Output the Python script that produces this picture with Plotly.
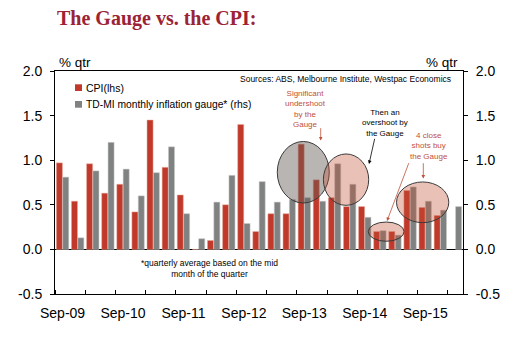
import plotly.graph_objects as go

quarters = ["Sep-09", "Dec-09", "Mar-10", "Jun-10", "Sep-10", "Dec-10", "Mar-11", "Jun-11",
            "Sep-11", "Dec-11", "Mar-12", "Jun-12", "Sep-12", "Dec-12", "Mar-13", "Jun-13",
            "Sep-13", "Dec-13", "Mar-14", "Jun-14", "Sep-14", "Dec-14", "Mar-15", "Jun-15",
            "Sep-15", "Dec-15", "Mar-16"]
cpi = [0.97, 0.54, 0.96, 0.63, 0.73, 0.42, 1.45, 0.92, 0.61, 0.0, 0.10, 0.50, 1.40, 0.20,
       0.40, 0.40, 1.18, 0.78, 0.58, 0.48, 0.48, 0.20, 0.20, 0.66, 0.47, 0.38, None]
gauge = [0.81, 0.13, 0.88, 1.20, 0.90, 0.60, 0.86, 1.15, 0.40, 0.12, 0.53, 0.83, 0.29, 0.76,
         0.53, 0.56, 0.58, 0.54, 0.96, 0.73, 0.36, 0.21, 0.16, 0.70, 0.54, 0.44, 0.48]
y_ticks = [-0.5, 0.0, 0.5, 1.0, 1.5, 2.0]
y_tick_labels = ["-0.5", "0.0", "0.5", "1.0", "1.5", "2.0"]
label_every = 4

W, H = 514, 358
ML, MR, MT, MB = 55, 51, 71, 64
PW, PH = W - ML - MR, H - MT - MB


def px(x):
    return (x - ML) / PW


def py(y):
    return (H - MB - y) / PH


xs = list(range(len(quarters)))
FONT = "Liberation Sans, Arial, sans-serif"
RED = "#c0392b"
GREY = "#808282"
ANN_RED = "#c0503a"

fig = go.Figure()
fig.add_trace(go.Bar(x=xs, y=cpi, name="CPI(lhs)", marker=dict(color=RED, line=dict(color="#e8a898", width=0.5)),
                     offsetgroup="a", yaxis="y"))
fig.add_trace(go.Bar(x=xs, y=gauge, name="TD-MI monthly inflation gauge* (rhs)",
                     marker=dict(color=GREY, line=dict(color="#c8c8c8", width=0.5)),
                     offsetgroup="b", yaxis="y2"))

yax = dict(range=[-0.5, 2.0], tickvals=y_ticks, ticktext=y_tick_labels, ticks="outside", ticklen=4,
           tickcolor="black", showline=True, linecolor="black", linewidth=1, showgrid=False,
           tickfont=dict(size=14, color="black", family=FONT), ticklabelstandoff=5, automargin=False)

fig.update_layout(
    width=W, height=H, margin=dict(l=ML, r=MR, t=MT, b=MB),
    paper_bgcolor="white", plot_bgcolor="white", showlegend=False,
    barmode="group", bargap=0.16, bargroupgap=0.05,
    font=dict(family=FONT, color="black"),
    xaxis=dict(range=[-0.5, len(quarters) - 0.5], tickvals=xs[::label_every],
               ticktext=quarters[::label_every], ticks="", showline=True, mirror=True,
               linecolor="black", linewidth=1, showgrid=False, zeroline=False, automargin=False,
               tickfont=dict(size=14, color="black", family=FONT), ticklabelstandoff=6,
               minor=dict(tick0=-0.5, dtick=2, ticks="inside", ticklen=4, tickcolor="black")),
    yaxis=dict(**yax, zeroline=True, zerolinecolor="black", zerolinewidth=1),
    yaxis2=dict(**yax, overlaying="y", side="right", zeroline=False),
)

# highlight ellipses
ellipses = [
    (14.21, 17.65, 0.52, 1.21, "rgba(100,92,85,0.45)"),
    (17.26, 20.26, 0.494, 1.07, "rgba(192,77,50,0.35)"),
    (20.23, 22.60, 0.091, 0.307, "rgba(192,77,50,0.35)"),
    (22.10, 25.56, 0.30, 0.756, "rgba(192,77,50,0.35)"),
]
for x0, x1, y0, y1, fc in ellipses:
    fig.add_shape(type="circle", xref="x", yref="y", x0=x0, x1=x1, y0=y0, y1=y1,
                  fillcolor=fc, line=dict(color="#3a3a3a", width=1), layer="above")

ann = []
ann.append(dict(x=px(55), y=py(18.5), text="<b>The Gauge vs. the CPI:</b>", xanchor="left", yanchor="middle",
                font=dict(family="Liberation Serif, Times New Roman, serif", size=20, color="#9b2335")))
ann.append(dict(x=px(57), y=py(62), text="% qtr", xanchor="left", yanchor="middle", font=dict(size=13.5)))
ann.append(dict(x=px(460), y=py(62), text="% qtr", xanchor="right", yanchor="middle", font=dict(size=13.5)))
ann.append(dict(x=px(453), y=py(79), text="Sources: ABS, Melbourne Institute, Westpac Economics",
                xanchor="right", yanchor="middle", font=dict(size=8.5)))
ann.append(dict(x=px(83.5), y=py(87.7), text="CPI(lhs)", xanchor="left", yanchor="middle", font=dict(size=10.5)))
ann.append(dict(x=px(83.5), y=py(104.4), text="TD-MI monthly inflation gauge* (rhs)", xanchor="left",
                yanchor="middle", font=dict(size=10.3)))
ann.append(dict(x=px(209), y=py(268.8), text="*quarterly average based on the mid<br>month of the quarter",
                xanchor="center", yanchor="middle", font=dict(size=8.5)))
ann.append(dict(x=px(305), y=py(108.7), text="Significant<br>undershoot<br>by the<br>Gauge",
                xanchor="center", yanchor="middle", font=dict(size=8, color=ANN_RED)))
ann.append(dict(x=px(385), y=py(123), text="Then an<br>overshoot by<br>the Gauge",
                xanchor="center", yanchor="middle", font=dict(size=8, color="black")))
ann.append(dict(x=px(429), y=py(146), text="4 close<br>shots buy<br>the Gauge",
                xanchor="center", yanchor="middle", font=dict(size=8, color=ANN_RED)))

arrows = [
    ((320.7, 126.7), (320.7, 140.5), ANN_RED),
    ((375.0, 137.3), (369.0, 164.0), "black"),
    ((423.3, 161.7), (423.3, 178.5), ANN_RED),
    ((409.3, 161.7), (387.0, 221.0), ANN_RED),
]
for (tx, ty), (hx, hy), col in arrows:
    ann.append(dict(x=px(hx), y=py(hy), ax=tx - hx, ay=ty - hy, text="", showarrow=True,
                    arrowhead=2, arrowsize=0.9, arrowwidth=0.8, arrowcolor=col, standoff=0, startstandoff=0))

for a in ann:
    a.setdefault("xref", "paper")
    a.setdefault("yref", "paper")
    a.setdefault("showarrow", False)
    fig.add_annotation(**a)

# legend swatches
for (y0, y1, col) in [(84.3, 91.0, RED), (101.0, 107.7, GREY)]:
    fig.add_shape(type="rect", xref="paper", yref="paper", x0=px(75), x1=px(82), y0=py(y1), y1=py(y0),
                  fillcolor=col, line=dict(width=0))

fig.write_html("out.html", config={"displayModeBar": False},
               post_script="document.body.style.margin='0';document.body.style.padding='0';")
